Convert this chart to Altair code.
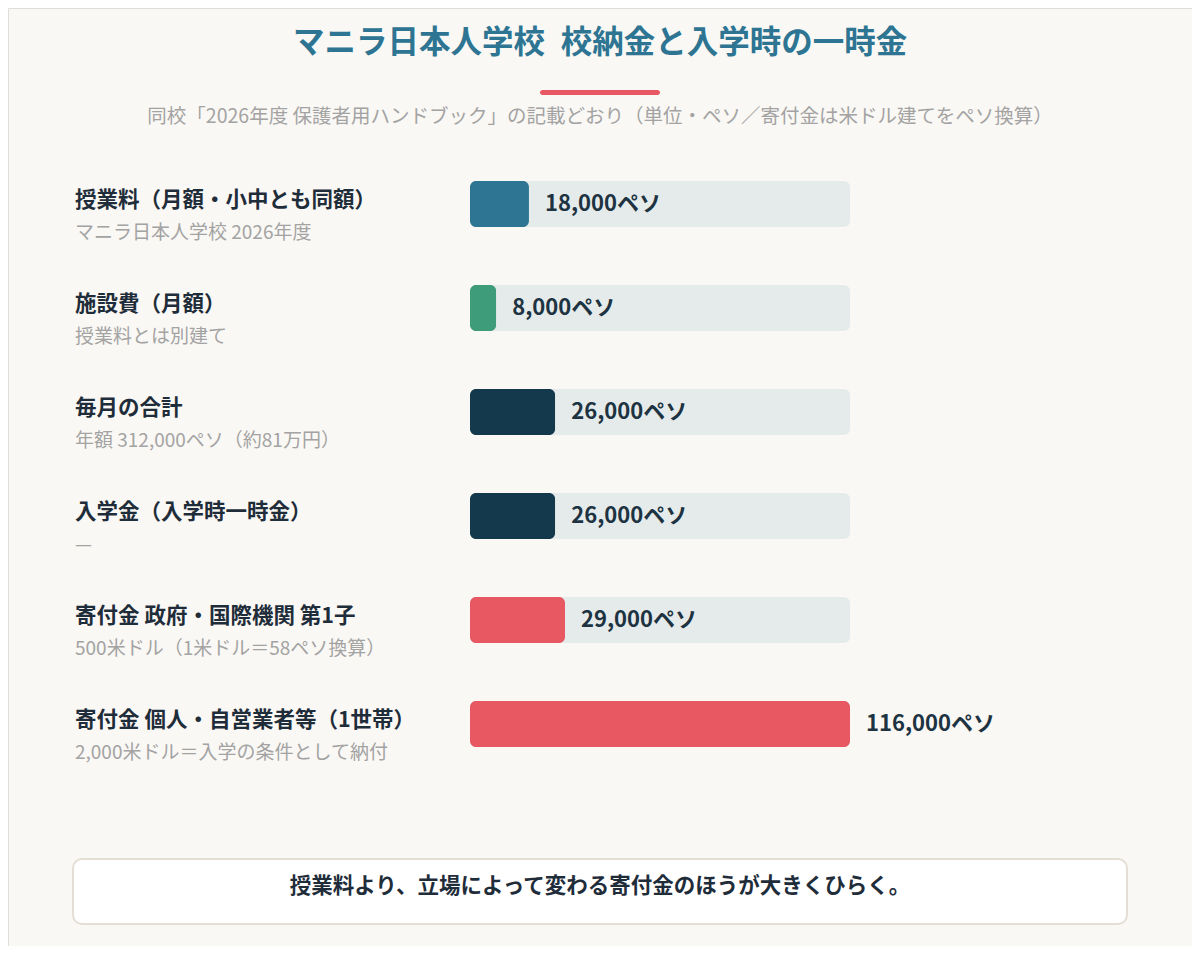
import altair as alt
import pandas as pd

# ---- data ----
labels = [
    "授業料（月額・小中とも同額）",
    "施設費（月額）",
    "毎月の合計",
    "入学金（入学時一時金）",
    "寄付金 政府・国際機関 第1子",
    "寄付金 個人・自営業者等（1世帯）",
]
sublabels = [
    "マニラ日本人学校 2026年度",
    "授業料とは別建て",
    "年額 312,000ペソ（約81万円）",
    "—",
    "500米ドル（1米ドル＝58ペソ換算）",
    "2,000米ドル＝入学の条件として納付",
]
values = [18000, 8000, 26000, 26000, 29000, 116000]
value_texts = ["18,000ペソ", "8,000ペソ", "26,000ペソ", "26,000ペソ", "29,000ペソ", "116,000ペソ"]
kinds = ["授業料", "施設費", "合計", "入学金", "寄付金", "寄付金"]

kind_domain = ["授業料", "施設費", "合計", "入学金", "寄付金"]
kind_colors = ["#2d7592", "#3f9c7a", "#15394c", "#15394c", "#e85862"]

title_text = "マニラ日本人学校\u2002校納金と入学時の一時金"
subtitle_text = "同校「2026年度 保護者用ハンドブック」の記載どおり（単位・ペソ／寄付金は米ドル建てをペソ換算）"
footer_text = "授業料より、立場によって変わる寄付金のほうが大きくひらく。"

FONT = "Noto Sans CJK JP"
W, H = 1184, 938

df = pd.DataFrame({
    "label": labels,
    "sub": sublabels,
    "value": values,
    "vtext": value_texts,
    "kind": kinds,
    "track": [max(values)] * len(values),
})

x_scale = alt.Scale(domain=[0, max(values)], range=[462, 842])
y_scale = alt.Scale(domain=labels, range=[144, 768], paddingInner=0.558, paddingOuter=0.279)

base = alt.Chart(df)
y_enc = alt.Y("label:N", scale=y_scale, axis=None)

track = base.mark_bar(cornerRadius=6, color="#e5ebeb").encode(
    x=alt.X("track:Q", scale=x_scale, axis=None),
    y=y_enc,
)

bars = base.mark_bar(cornerRadius=6).encode(
    x=alt.X("value:Q", scale=x_scale, axis=None),
    y=y_enc,
    color=alt.Color("kind:N", scale=alt.Scale(domain=kind_domain, range=kind_colors), legend=None),
)

value_labels = base.mark_text(
    align="left", baseline="middle", dx=16, font=FONT, fontSize=22,
    fontWeight="bold", color="#1e3342",
).encode(
    x=alt.X("value:Q", scale=x_scale, axis=None),
    y=y_enc,
    text="vtext:N",
)

row_labels = base.mark_text(
    align="left", baseline="middle", dy=-3, font=FONT, fontSize=21.5,
    fontWeight="bold", color="#1f2d3a",
).encode(x=alt.value(67), y=y_enc, text="label:N")

row_subs = base.mark_text(
    align="left", baseline="middle", dy=29, font=FONT, fontSize=19,
    color="#a3a3a3",
).encode(x=alt.value(67), y=y_enc, text="sub:N")

# ---- header / footer ----
title = alt.Chart(pd.DataFrame({"t": [title_text]})).mark_text(
    align="center", baseline="middle", font=FONT, fontSize=31.5,
    fontWeight="bold", color="#2d7592",
).encode(x=alt.value(W / 2), y=alt.value(36), text="t:N")

underline = alt.Chart(pd.DataFrame({"t": [0]})).mark_rect(
    color="#e85862", cornerRadius=2.5,
).encode(x=alt.value(532), x2=alt.value(652), y=alt.value(82), y2=alt.value(87))

subtitle = alt.Chart(pd.DataFrame({"t": [subtitle_text]})).mark_text(
    align="center", baseline="middle", font=FONT, fontSize=19.5,
    color="#a3a3a3",
).encode(x=alt.value(W / 2), y=alt.value(109), text="t:N")

footer_box = alt.Chart(pd.DataFrame({"t": [0]})).mark_rect(
    fill="white", stroke="#e4ded4", strokeWidth=2, cornerRadius=9,
).encode(x=alt.value(65), x2=alt.value(1119), y=alt.value(851), y2=alt.value(916))

footer = alt.Chart(pd.DataFrame({"t": [footer_text]})).mark_text(
    align="center", baseline="middle", font=FONT, fontSize=21.5,
    fontWeight="bold", color="#1f2d3a",
).encode(x=alt.value(W / 2), y=alt.value(879), text="t:N")

chart = (
    alt.layer(track, bars, value_labels, row_labels, row_subs,
              title, underline, subtitle, footer_box, footer)
    .properties(width=W, height=H, autosize=alt.AutoSizeParams(type="none"), padding=0)
    .configure_view(stroke=None)
    .configure(background="#faf8f4", font=FONT)
)

chart.save("out.html", embed_options={"renderer": "svg", "actions": False})
